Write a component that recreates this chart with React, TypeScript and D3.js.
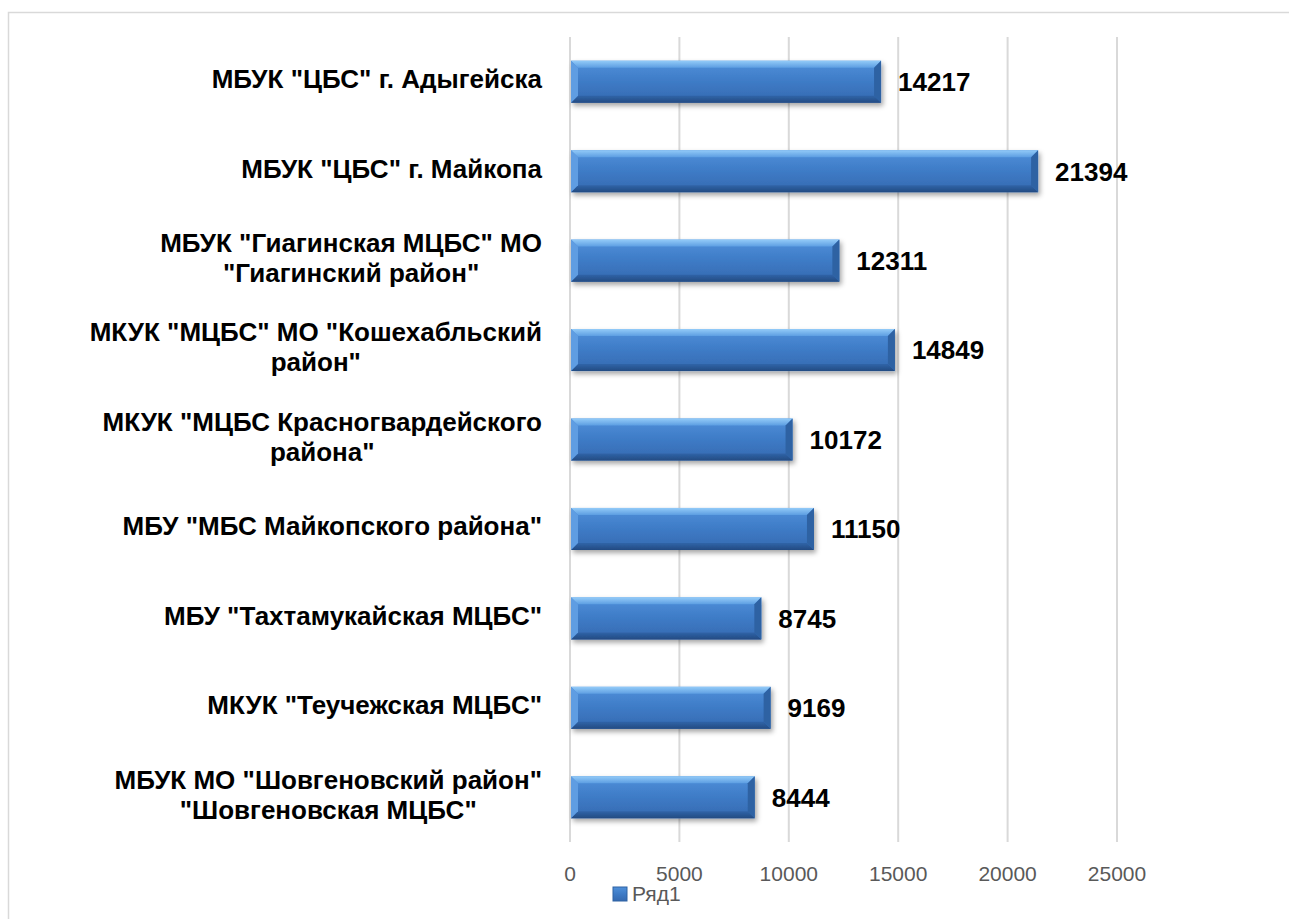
import React, { useEffect, useRef } from 'react';
import * as d3 from 'd3';

// категории (строки подписи), сверху вниз
const categories: string[][] = [
  ['МБУК "ЦБС" г. Адыгейска'],
  ['МБУК "ЦБС" г. Майкопа'],
  ['МБУК "Гиагинская МЦБС" МО', '"Гиагинский район"'],
  ['МКУК "МЦБС" МО "Кошехабльский', 'район"'],
  ['МКУК "МЦБС Красногвардейского', 'района"'],
  ['МБУ "МБС Майкопского района"'],
  ['МБУ "Тахтамукайская МЦБС"'],
  ['МКУК "Теучежская МЦБС"'],
  ['МБУК МО "Шовгеновский район"', '"Шовгеновская МЦБС"'],
];
const values: number[] = [14217, 21394, 12311, 14849, 10172, 11150, 8745, 9169, 8444];
const xTicks: number[] = [0, 5000, 10000, 15000, 20000, 25000];
const seriesName = 'Ряд1';

const W = 1289;
const H = 919;
const FONT = '"Liberation Sans", Arial, sans-serif';

export default function App() {
  const ref = useRef<SVGSVGElement | null>(null);

  useEffect(() => {
    if (!ref.current) return;
    const svg = d3.select(ref.current);
    svg.selectAll('*').remove();

    const defs = svg.append('defs');
    const body = defs.append('linearGradient').attr('id', 'barBody')
      .attr('x1', 0).attr('y1', 0).attr('x2', 0).attr('y2', 1);
    [['0', '#4f90da'], ['0.5', '#3e7bc6'], ['1', '#3569b0']].forEach(([o, c]) =>
      body.append('stop').attr('offset', o).attr('stop-color', c));
    const top = defs.append('linearGradient').attr('id', 'barTop')
      .attr('x1', 0).attr('y1', 0).attr('x2', 0).attr('y2', 1);
    [['0', '#93cbf8'], ['1', '#5d9ee2']].forEach(([o, c]) =>
      top.append('stop').attr('offset', o).attr('stop-color', c));
    const bot = defs.append('linearGradient').attr('id', 'barBot')
      .attr('x1', 0).attr('y1', 0).attr('x2', 0).attr('y2', 1);
    [['0', '#3064a8'], ['1', '#234b82']].forEach(([o, c]) =>
      bot.append('stop').attr('offset', o).attr('stop-color', c));
    const sh = defs.append('filter').attr('id', 'shadow')
      .attr('x', '-10%').attr('y', '-30%').attr('width', '120%').attr('height', '170%');
    sh.append('feDropShadow').attr('dx', 2).attr('dy', 3).attr('stdDeviation', 2.5)
      .attr('flood-color', '#000').attr('flood-opacity', 0.35);

    // рамка
    svg.append('rect').attr('x', 8.5).attr('y', 12.5).attr('width', 1300).attr('height', 1000)
      .attr('fill', '#fff').attr('stroke', '#d9d9d9').attr('stroke-width', 1.5);

    const x = d3.scaleLinear().domain([0, 25000]).range([570, 1117]);
    const idx = categories.map((_, i) => String(i));
    const y = d3.scaleBand().domain(idx).range([37, 842]).paddingInner(0.53).paddingOuter(0.265);

    // сетка
    svg.append('g').selectAll('line').data(xTicks).join('line')
      .attr('x1', d => x(d)).attr('x2', d => x(d))
      .attr('y1', 37).attr('y2', 842)
      .attr('stroke', '#d9d9d9').attr('stroke-width', 2);

    // подписи оси
    svg.append('g').selectAll('text').data(xTicks).join('text')
      .attr('x', d => x(d)).attr('y', 881)
      .attr('text-anchor', 'middle')
      .attr('font-family', FONT).attr('font-size', 21).attr('fill', '#595959')
      .text(d => String(d));

    // столбцы
    const b = 7;
    const bars = svg.append('g').selectAll('g').data(values).join('g')
      .attr('filter', 'url(#shadow)');
    bars.each(function (v, i) {
      const g = d3.select(this);
      const x0 = x(0) + 1, x1 = x(v);
      const y0 = y(String(i))!, y1 = y0 + y.bandwidth();
      g.append('rect').attr('x', x0).attr('y', y0).attr('width', x1 - x0).attr('height', y1 - y0)
        .attr('fill', 'url(#barBody)');
      g.append('polygon').attr('points', `${x0},${y0} ${x1},${y0} ${x1 - b},${y0 + b} ${x0 + b},${y0 + b}`)
        .attr('fill', 'url(#barTop)');
      g.append('polygon').attr('points', `${x0},${y1} ${x1},${y1} ${x1 - b},${y1 - b} ${x0 + b},${y1 - b}`)
        .attr('fill', 'url(#barBot)');
      g.append('polygon').attr('points', `${x1},${y0} ${x1},${y1} ${x1 - b},${y1 - b} ${x1 - b},${y0 + b}`)
        .attr('fill', '#2e62a3');
      g.append('polygon').attr('points', `${x0},${y0} ${x0},${y1} ${x0 + b},${y1 - b} ${x0 + b},${y0 + b}`)
        .attr('fill', '#5f9de2');
    });

    // значения
    svg.append('g').selectAll('text').data(values).join('text')
      .attr('x', d => x(d) + 17)
      .attr('y', (_, i) => y(String(i))! + y.bandwidth() / 2)
      .attr('dy', '0.36em')
      .attr('font-family', FONT).attr('font-size', 26).attr('font-weight', 'bold').attr('fill', '#000')
      .text(d => String(d));

    // категории
    const right = 542;
    const lineH = 30;
    categories.forEach((lines, i) => {
      const cy = y(String(i))! + y.bandwidth() / 2 - 3;
      const g = svg.append('g');
      const texts = lines.map((ln, k) =>
        g.append('text')
          .attr('y', cy + (k - (lines.length - 1) / 2) * lineH)
          .attr('dy', '0.36em')
          .attr('text-anchor', 'middle')
          .attr('font-family', FONT).attr('font-size', 26).attr('font-weight', 'bold').attr('fill', '#000')
          .text(ln));
      const maxW = d3.max(texts, t => (t.node() as SVGTextElement).getComputedTextLength()) || 0;
      texts.forEach(t => t.attr('x', right - maxW / 2));
    });

    // легенда
    svg.append('rect').attr('x', 613).attr('y', 887).attr('width', 14).attr('height', 14)
      .attr('fill', 'url(#barBody)').attr('stroke', '#2e62a3').attr('stroke-width', 1);
    svg.append('text').attr('x', 632).attr('y', 901)
      .attr('font-family', FONT).attr('font-size', 21).attr('fill', '#595959')
      .text(seriesName);
  }, []);

  return (
    <svg ref={ref} width={W} height={H}
      style={{ position: 'absolute', left: 0, top: 0, background: '#fff' }} />
  );
}
